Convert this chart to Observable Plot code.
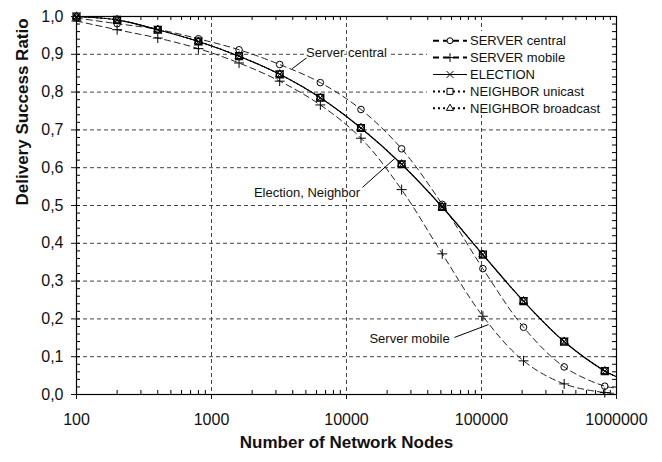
<!DOCTYPE html>
<html><head><meta charset="utf-8">
<script src="https://cdn.jsdelivr.net/npm/d3@7"></script>
<script src="https://cdn.jsdelivr.net/npm/@observablehq/plot@0.6"></script>
<style>
body{margin:0;background:#fff;}
#chart{width:662px;height:462px;}
</style></head><body><div id="chart"></div>
<script>
// ---- data ----
const nodes = [100, 200, 400, 800, 1600, 3200, 6400, 12800, 25600, 51200, 102400, 204800, 409600, 819200];
const serverCentral = [0.996, 0.981, 0.966, 0.941, 0.912, 0.873, 0.825, 0.754, 0.650, 0.503, 0.333, 0.178, 0.073, 0.022];
const serverMobile  = [0.988, 0.965, 0.943, 0.915, 0.877, 0.829, 0.766, 0.678, 0.542, 0.372, 0.207, 0.089, 0.028, 0.005];
const election      = [1.000, 0.991, 0.965, 0.934, 0.895, 0.847, 0.785, 0.705, 0.609, 0.496, 0.370, 0.247, 0.140, 0.062];
const neighborUnicast   = [1.000, 0.991, 0.965, 0.934, 0.895, 0.847, 0.785, 0.705, 0.609, 0.496, 0.370, 0.247, 0.140, 0.062];
const neighborBroadcast = [1.000, 0.991, 0.965, 0.934, 0.895, 0.847, 0.785, 0.705, 0.609, 0.496, 0.370, 0.247, 0.140, 0.062];
// curve ends at the right edge (1 000 000 nodes)
const curveEndX = 1000000;
const curveEnd = {"SERVER central": 0.017, "SERVER mobile": 0.003, "ELECTION": 0.047, "NEIGHBOR unicast": 0.047, "NEIGHBOR broadcast": 0.047};

const seriesNames = ["SERVER central", "SERVER mobile", "ELECTION", "NEIGHBOR unicast", "NEIGHBOR broadcast"];
const seriesValues = [serverCentral, serverMobile, election, neighborUnicast, neighborBroadcast];

const xTicks = [100, 1000, 10000, 100000, 1000000];
const xTickLabels = ["100", "1000", "10000", "100000", "1000000"];
const yTicks = [0, 0.1, 0.2, 0.3, 0.4, 0.5, 0.6, 0.7, 0.8, 0.9, 1.0];
const yTickLabels = ["0,0", "0,1", "0,2", "0,3", "0,4", "0,5", "0,6", "0,7", "0,8", "0,9", "1,0"];
const xTitle = "Number of Network Nodes";
const yTitle = "Delivery Success Ratio";

const annotationLabels = ["Server central", "Election, Neighbor", "Server mobile"];
const annotationX = [10000, 5100, 29300];
const annotationY = [0.905, 0.533, 0.148];
const leaderFromX = [3960, 13150, 63100];
const leaderFromY = [0.862, 0.548, 0.151];
const leaderToX = [5120, 22700, 112700];
const leaderToY = [0.892, 0.624, 0.185];

// ---- styles ----
const FONT = "'Liberation Sans', Arial, Helvetica, sans-serif";
const style = {
  "SERVER central":     {symbol: "circle", d3sym: d3.symbolCircle, r: 3.3, dash: "6,4", width: 1, color: "#222", legendDash: "6,4", legendWidth: 2},
  "SERVER mobile":      {symbol: "plus", d3sym: d3.symbolPlus, r: 3.3, dash: "6,4", width: 1, color: "#222", legendDash: "6,4", legendWidth: 2},
  "ELECTION":           {symbol: "times", d3sym: d3.symbolTimes, r: 3.6, dash: null, width: 1.2, color: "#000", legendDash: null, legendWidth: 1},
  "NEIGHBOR unicast":   {symbol: "square", d3sym: d3.symbolSquare, r: 3.8, dash: "1.5,2.5", width: 1, color: "#000", legendDash: "2,3", legendWidth: 2},
  "NEIGHBOR broadcast": {symbol: "triangle", d3sym: d3.symbolTriangle, r: 3.0, dash: "1.5,2.5", width: 1, color: "#000", legendDash: "2,3", legendWidth: 2}
};

// ---- build tables ----
const points = seriesNames.flatMap((s, k) => nodes.map((n, i) => ({series: s, x: n, y: seriesValues[k][i]})));
const curves = seriesNames.flatMap((s, k) => [...nodes.map((n, i) => ({series: s, x: n, y: seriesValues[k][i]})), {series: s, x: curveEndX, y: curveEnd[s]}]);
const annotations = annotationLabels.map((t, i) => ({text: t, x: annotationX[i], y: annotationY[i], x1: leaderFromX[i], y1: leaderFromY[i], x2: leaderToX[i], y2: leaderToY[i]}));

const xMinor = [];
for (let e = 100; e < 1000000; e *= 10) for (let k = 2; k <= 9; k++) xMinor.push(k * e);
const yMinor = d3.range(0, 51).map(i => i / 50);

const W = 662, H = 462, mL = 76, mR = 46, mT = 16, mB = 68;
const plotW = W - mL - mR, plotH = H - mT - mB;
const fmtY = d => yTickLabels[yTicks.findIndex(t => Math.abs(t - d) < 1e-9)];
const fmtX = d => xTickLabels[xTicks.indexOf(d)];

function legend(index, scales, values, dims) {
  const g = d3.create("svg:g").attr("font-family", FONT).attr("font-size", 13).attr("text-anchor", "start");
  const x0 = dims.width - dims.marginRight;
  g.append("rect").attr("x", x0 - 189).attr("y", 31).attr("width", 185).attr("height", 84).attr("fill", "white");
  seriesNames.forEach((name, i) => {
    const st = style[name];
    const y = 40.7 + i * 16.9;
    g.append("line").attr("x1", x0 - 183).attr("x2", x0 - 149).attr("y1", y).attr("y2", y)
      .attr("stroke", "black").attr("stroke-width", st.legendWidth)
      .attr("stroke-dasharray", st.legendDash);
    g.append("path").attr("transform", `translate(${x0 - 166},${y})`)
      .attr("d", d3.symbol(st.d3sym, Math.PI * st.r * st.r * 0.8)())
      .attr("fill", "white").attr("stroke", "black").attr("stroke-width", 1);
    g.append("text").attr("x", x0 - 146).attr("y", y).attr("dy", "0.36em")
      .attr("text-anchor", "start").attr("fill", "#111").text(name);
  });
  return g.node();
}

const gridStyle = {stroke: "#444", strokeWidth: 1, strokeDasharray: "4,3"};

const chart = Plot.plot({
  width: W, height: H,
  marginLeft: mL, marginRight: mR, marginTop: mT, marginBottom: mB,
  style: {fontFamily: FONT, fontSize: "16px", color: "#111", background: "white"},
  x: {type: "log", domain: [100, 1000000]},
  y: {domain: [0, 1]},
  marks: [
    Plot.ruleX(xTicks.slice(1, -1), {x: d => d, ...gridStyle}),
    Plot.ruleY(yTicks.slice(1, -1), {y: d => d, ...gridStyle}),
    // minor / inner ticks
    Plot.tickX(xMinor, {x: d => d, insetTop: plotH - 4, stroke: "black"}),
    Plot.tickX(xMinor, {x: d => d, insetBottom: plotH - 4, stroke: "black"}),
    Plot.tickY(yMinor, {y: d => d, insetRight: plotW - 4, stroke: "black"}),
    Plot.tickY(yMinor, {y: d => d, insetLeft: plotW - 4, stroke: "black"}),
    // legend (white box hides grid behind it)
    legend,
    // annotations
    Plot.link(annotations, {x1: "x1", y1: "y1", x2: "x2", y2: "y2", stroke: "black", strokeWidth: 1}),
    Plot.text(annotations, {x: "x", y: "y", text: "text", fontSize: 13, fill: "#111", stroke: "white", strokeWidth: 4, paintOrder: "stroke"}),
    // curves
    ...seriesNames.map(s => Plot.line(curves.filter(d => d.series === s), {
      x: "x", y: "y", curve: "catmull-rom", stroke: style[s].color, strokeWidth: style[s].width,
      strokeDasharray: style[s].dash
    })),
    // markers
    ...seriesNames.map(s => Plot.dot(points.filter(d => d.series === s), {
      x: "x", y: "y", symbol: style[s].symbol, r: style[s].r, stroke: "black", strokeWidth: s === "NEIGHBOR unicast" ? 1.4 : 1, fill: "none"
    })),
    Plot.frame({stroke: "black", strokeWidth: 1.2}),
    Plot.axisX({ticks: xTicks, tickFormat: fmtX, tickSize: 5, tickPadding: 14, label: null, fontSize: 16}),
    Plot.axisY({ticks: yTicks, tickFormat: fmtY, tickSize: 5, tickPadding: 8, label: null, fontSize: 16}),
    Plot.text([xTitle], {frameAnchor: "bottom", dy: 53, fontWeight: "bold", fontSize: 17, fill: "#111"}),
    Plot.text([yTitle], {frameAnchor: "left", dx: -54, rotate: -90, fontWeight: "bold", fontSize: 17, fill: "#111"})
  ]
});
document.getElementById("chart").appendChild(chart);
</script>
</body></html>
